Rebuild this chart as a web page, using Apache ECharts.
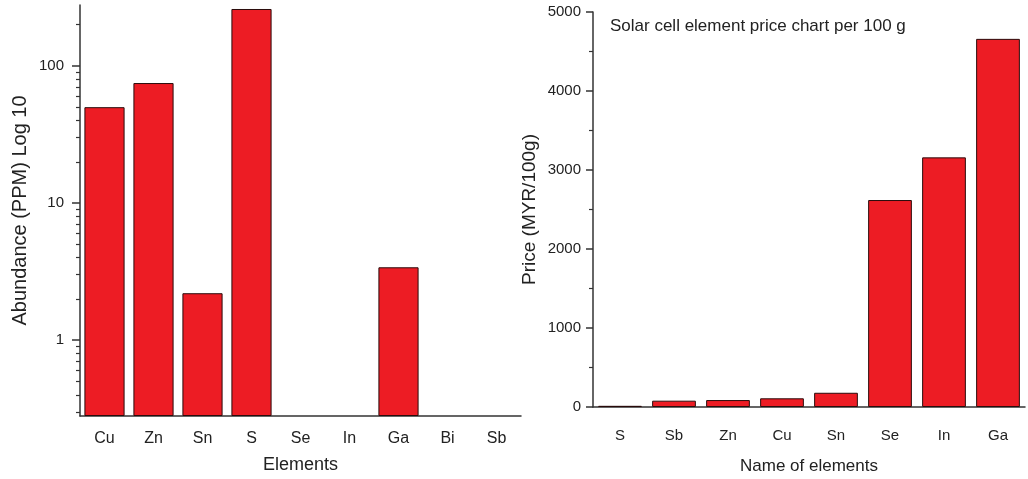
<!DOCTYPE html>
<html><head><meta charset="utf-8">
<script src="https://cdn.jsdelivr.net/npm/echarts@6/dist/echarts.min.js"></script>
<style>html,body{margin:0;padding:0;background:#fff}#c{width:1028px;height:479px}</style>
</head><body><div id="c"></div>
<script>
// Left chart: crustal abundance (ppm), log scale
const abundanceElements = ['Cu','Zn','Sn','S','Se','In','Ga','Bi','Sb'];
const abundanceValues = [50, 75, 2.2, 260, null, null, 3.4, null, null];
const abundanceMinorTicks = [0.3,0.4,0.5,0.6,0.7,0.8,0.9,2,3,4,5,6,7,8,9,20,30,40,50,60,70,80,90,200];
// Right chart: price per 100 g (MYR)
const priceElements = ['S','Sb','Zn','Cu','Sn','Se','In','Ga'];
const priceValues = [15, 80, 88, 110, 180, 2620, 3160, 4660];

const FONT = 'Liberation Sans, Arial, sans-serif';
const AX = '#333';
const RED = '#ED1C24';
const chart = echarts.init(document.getElementById('c'), null, {renderer:'canvas'});
chart.setOption({
  animation: false,
  textStyle: {fontFamily: FONT},
  graphic: [{type:'text', left: 610, top: 18, style:{text:'Solar cell element price chart per 100 g', font:'17px ' + FONT, fill:'#222'}}],
  grid: [
    {left: 80, top: 5, width: 441, height: 411, outerBoundsMode:'none', containLabel:false},
    {left: 593, top: 12, width: 432, height: 395, outerBoundsMode:'none', containLabel:false}
  ],
  xAxis: [
    {type:'category', gridIndex:0, data: abundanceElements,
     axisLine:{lineStyle:{color:AX, width:1.5}},
     axisTick:{alignWithLabel:true, length:7, lineStyle:{color:AX, width:1.5}},
     axisLabel:{color:'#222', fontSize:16, margin:15},
     name:'Elements', nameLocation:'middle', nameGap:40, nameTextStyle:{fontSize:18, color:'#222'}},
    {type:'category', gridIndex:0, data: abundanceElements, position:'bottom',
     axisLine:{show:false}, axisLabel:{show:false},
     axisTick:{length:4, lineStyle:{color:AX, width:1.2}}},
    {type:'category', gridIndex:1, data: priceElements,
     axisLine:{lineStyle:{color:AX, width:1.5}},
     axisTick:{alignWithLabel:true, length:7, lineStyle:{color:AX, width:1.5}},
     axisLabel:{color:'#222', fontSize:15, margin:21},
     name:'Name of elements', nameLocation:'middle', nameGap:51, nameTextStyle:{fontSize:17, color:'#222'}},
    {type:'category', gridIndex:1, data: priceElements, position:'bottom',
     axisLine:{show:false}, axisLabel:{show:false},
     axisTick:{length:4, lineStyle:{color:AX, width:1.2}}}
  ],
  yAxis: [
    {type:'log', gridIndex:0, logBase:10, min:0.28, max:278, startValue:0.28,
     splitLine:{show:false},
     axisLine:{show:true, lineStyle:{color:AX, width:1.5}},
     axisTick:{show:true, length:8, lineStyle:{color:AX, width:1.5}},
     axisLabel:{color:'#222', fontSize:15, margin:16, showMinLabel:false, showMaxLabel:false},
     name:'Abundance (PPM) Log 10', nameLocation:'middle', nameGap:50, nameTextStyle:{fontSize:20, color:'#222'}},
    {type:'log', gridIndex:0, logBase:10, min:0.28, max:278, position:'left',
     splitLine:{show:false}, axisLine:{show:false}, axisLabel:{show:false},
     axisTick:{show:true, length:4, customValues: abundanceMinorTicks, lineStyle:{color:AX, width:1.2}}},
    {type:'value', gridIndex:1, min:0, max:5000, interval:1000,
     splitLine:{show:false},
     axisLine:{show:true, lineStyle:{color:AX, width:1.5}},
     axisTick:{show:true, length:7, lineStyle:{color:AX, width:1.5}},
     minorTick:{show:true, splitNumber:2, length:4, lineStyle:{color:AX, width:1.2}},
     axisLabel:{color:'#222', fontSize:15, margin:12, formatter: v => String(v)},
     name:'Price (MYR/100g)', nameLocation:'middle', nameGap:54, nameTextStyle:{fontSize:19, color:'#222'}}
  ],
  series: [
    {type:'bar', xAxisIndex:0, yAxisIndex:0, data: abundanceValues, barCategoryGap:'18%',
     itemStyle:{color:RED, borderColor:'#2a0c0c', borderWidth:1}},
    {type:'bar', xAxisIndex:2, yAxisIndex:2, data: priceValues, barCategoryGap:'19%',
     itemStyle:{color:RED, borderColor:'#2a0c0c', borderWidth:1}}
  ]
});
</script></body></html>
